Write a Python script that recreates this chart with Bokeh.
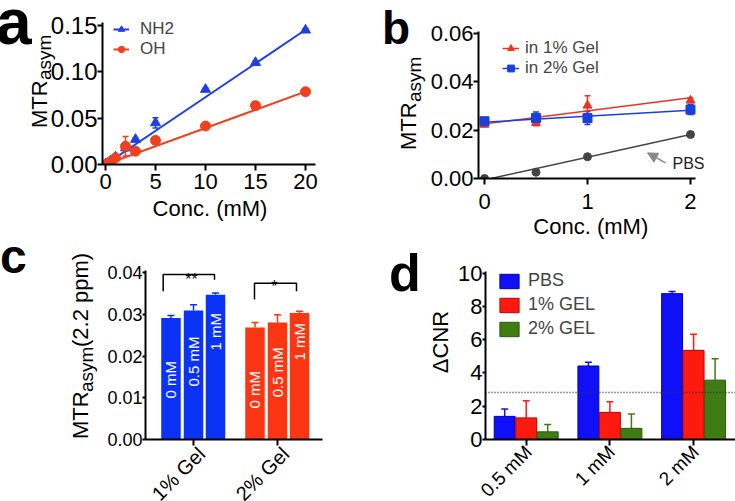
import math
from bokeh.plotting import figure
from bokeh.core.properties import value
from bokeh.models import (Range1d, FixedTicker, Whisker, TeeHead, ColumnDataSource, Legend,
                          LegendItem, Label, LabelSet, Span, Arrow, NormalHead, NumeralTickFormatter)
from bokeh.layouts import row, column
from bokeh.embed import file_html
from bokeh.resources import INLINE

try:
    from bokeh.models import HTMLLabelSet as OutLabelSet
except ImportError:
    OutLabelSet = LabelSet

FONT = "Liberation Sans"

# ---------------- data ----------------
# panel a
conc_a = [0, 0.5, 1, 2, 3, 5, 10, 15, 20]
nh2 = [0.0005, 0.004, 0.008, 0.018, 0.027, 0.045, 0.081, 0.110, 0.145]
nh2_err = [0.0, 0.0, 0.0, 0.0035, 0.0015, 0.0055, 0.0015, 0.0015, 0.0015]
oh = [0.0, 0.003, 0.007, 0.0196, 0.0143, 0.026, 0.0415, 0.0635, 0.0785]
oh_err = [0.0, 0.0, 0.0, 0.0105, 0.001, 0.001, 0.001, 0.001, 0.001]
nh2_fit = (0.00727, 0.0)     # slope, intercept
oh_fit = (0.00393, 0.0)

# panel b
conc_b = [0, 0.5, 1, 2]
gel1_b = [0.0223, 0.0230, 0.0302, 0.0323]
gel1_b_err = [0.0008, 0.0012, 0.0040, 0.0010]
gel2_b = [0.0237, 0.0250, 0.0250, 0.0285]
gel2_b_err = [0.0010, 0.0025, 0.0027, 0.0020]
pbs_b = [0.0, 0.0026, 0.0090, 0.0182]
gel1_b_fit = (0.0054, 0.0226)
gel2_b_fit = (0.00245, 0.0233)
pbs_b_fit = (0.0094, -0.0006)

# panel c
groups_c = ["1% Gel", "2% Gel"]
conc_labels_c = ["0 mM", "0.5 mM", "1 mM"]
gel1_c = [0.0291, 0.0309, 0.0347]
gel1_c_err = [0.0006, 0.0014, 0.0004]
gel2_c = [0.0268, 0.0280, 0.0303]
gel2_c_err = [0.0012, 0.0019, 0.0004]
sig_c = ["**", "*"]

# panel d
groups_d = ["0.5 mM", "1 mM", "2 mM"]
pbs_d = [1.39, 4.42, 8.77]
pbs_d_err = [0.44, 0.23, 0.13]
gel1_d = [1.30, 1.63, 5.36]
gel1_d_err = [1.03, 0.64, 0.97]
gel2_d = [0.46, 0.67, 3.57]
gel2_d_err = [0.44, 0.86, 1.28]
threshold_d = 2.83


def make_fig(w, h, xr, yr, l, r, t, b):
    p = figure(width=w, height=h, x_range=Range1d(*xr), y_range=Range1d(*yr),
               output_backend="svg", toolbar_location=None,
               min_border_left=l, min_border_right=r, min_border_top=t, min_border_bottom=b)
    p.title.visible = False
    p.grid.visible = False
    p.outline_line_color = None
    for ax in p.axis:
        ax.axis_line_width = 2
        ax.axis_line_color = "black"
        ax.major_tick_line_width = 2
        ax.major_tick_line_color = "black"
        ax.major_tick_in = 0
        ax.minor_tick_in = 0
        ax.minor_tick_out = 0
        ax.major_label_text_font = FONT
        ax.major_label_text_color = "black"
        ax.axis_label_text_font = FONT
        ax.axis_label_text_font_style = "normal"
        ax.axis_label_text_color = "black"
    return p


def out_labels(p, xs, ys, texts, size, angle=0.0, align="left", baseline="middle",
               bold=False, dx=0, dy=0):
    src = ColumnDataSource(dict(x=xs, y=ys, t=texts))
    p.add_layout(OutLabelSet(x="x", y="y", text="t", source=src, angle=angle, text_align=align,
                             text_baseline=baseline, x_offset=dx, y_offset=dy,
                             text_font=value(FONT), text_font_size=value(f"{size}px"),
                             text_font_style="bold" if bold else "normal", text_color="black"))


def fit_line(conc, fit):
    xs = [min(conc), max(conc)]
    return xs, [fit[0] * x + fit[1] for x in xs]


VERT = math.pi / 2

# ---------------- panel a ----------------
pa = make_fig(370, 244, (-0.3, 26.5), (0, 0.17697), 102, 0, 0, 80)
pa.xaxis.bounds = (-0.3, 21)
pa.yaxis.bounds = (0, 0.1532)
pa.xaxis.ticker = FixedTicker(ticks=[0, 5, 10, 15, 20])
pa.yaxis.ticker = FixedTicker(ticks=[0, 0.05, 0.10, 0.15])
pa.yaxis.formatter = NumeralTickFormatter(format="0.00")
pa.xaxis.major_label_text_font_size = "22px"
pa.yaxis.major_label_text_font_size = "24px"
pa.xaxis.major_tick_out = 6
pa.xaxis.major_label_standoff = 3
pa.yaxis.major_tick_out = 5
pa.yaxis.major_label_standoff = 0

BLUE_A, RED_A = "#1f3fe0", "#f0401e"
series_a = []
for vals, errs, fit, col, mk, name in [(nh2, nh2_err, nh2_fit, BLUE_A, "triangle", "NH2"),
                                       (oh, oh_err, oh_fit, RED_A, "circle", "OH")]:
    fx, fy = fit_line(conc_a, fit)
    lr = pa.line(fx, fy, line_color=col, line_width=2)
    src = ColumnDataSource(dict(x=conc_a, y=vals, lo=[v - e for v, e in zip(vals, errs)],
                                hi=[v + e for v, e in zip(vals, errs)]))
    pa.add_layout(Whisker(source=src, base="x", lower="lo", upper="hi", line_color=col, line_width=1.5,
                          upper_head=TeeHead(size=6, line_color=col, line_width=1.5),
                          lower_head=TeeHead(size=6, line_color=col, line_width=1.5)))
    sr = pa.scatter("x", "y", source=src, marker=mk, size=10, fill_color=col, line_color=col)
    series_a.append(LegendItem(label=name, renderers=[lr, sr]))
pa.add_layout(Legend(items=series_a, location=(11, 105), glyph_width=16, glyph_height=18,
                     label_standoff=11, spacing=0, padding=0, margin=0, border_line_color=None,
                     background_fill_alpha=0, label_text_font=FONT, label_text_font_size="17px",
                     label_height=18))
out_labels(pa, [-10.9], [0.1532], ["a"], 64, bold=True)
out_labels(pa, [-6.53], [0.0388], ["MTR"], 22, angle=VERT)
out_labels(pa, [-6.03], [0.0906], ["asym"], 19, angle=VERT)
out_labels(pa, [10.5], [-0.0486], ["Conc. (mM)"], 22, align="center")

# ---------------- panel b ----------------
pb = make_fig(365, 244, (-0.0583, 2.437), (0, 0.07365), 108, 0, 0, 66)
pb.xaxis.bounds = (-0.058, 2.049)
pb.yaxis.bounds = (0, 0.0608)
pb.xaxis.ticker = FixedTicker(ticks=[0, 1, 2])
pb.yaxis.ticker = FixedTicker(ticks=[0, 0.02, 0.04, 0.06])
pb.yaxis.formatter = NumeralTickFormatter(format="0.00")
pb.xaxis.major_label_text_font_size = "22px"
pb.yaxis.major_label_text_font_size = "22px"
pb.xaxis.major_tick_out = 6
pb.xaxis.major_label_standoff = 9
pb.yaxis.major_tick_out = 5
pb.yaxis.major_label_standoff = 0

RED_B, BLUE_B, GRAY_B = "#ee3322", "#1a3fe0", "#444444"
fx, fy = fit_line(conc_b, pbs_b_fit)
pb.line(fx, fy, line_color=GRAY_B, line_width=1.5)
pb.scatter(conc_b, pbs_b, marker="circle", size=8, fill_color=GRAY_B, line_color=GRAY_B)
items_b = []
for vals, errs, fit, col, mk, name in [(gel1_b, gel1_b_err, gel1_b_fit, RED_B, "triangle", "in 1% Gel"),
                                       (gel2_b, gel2_b_err, gel2_b_fit, BLUE_B, "square", "in 2% Gel")]:
    fx, fy = fit_line(conc_b, fit)
    lr = pb.line(fx, fy, line_color=col, line_width=1.5)
    src = ColumnDataSource(dict(x=conc_b, y=vals, lo=[v - e for v, e in zip(vals, errs)],
                                hi=[v + e for v, e in zip(vals, errs)]))
    pb.add_layout(Whisker(source=src, base="x", lower="lo", upper="hi", line_color=col, line_width=1.5,
                          upper_head=TeeHead(size=6, line_color=col, line_width=1.5),
                          lower_head=TeeHead(size=6, line_color=col, line_width=1.5)))
    sr = pb.scatter("x", "y", source=src, marker=mk, size=9, fill_color=col, line_color=col)
    items_b.append(LegendItem(label=name, renderers=[lr, sr]))
pb.add_layout(Legend(items=items_b, location=(24, 100), glyph_width=17, glyph_height=18,
                     label_standoff=6, spacing=0, padding=0, margin=0, border_line_color=None,
                     background_fill_alpha=0, label_text_font=FONT, label_text_font_size="17px",
                     label_height=18))
pb.add_layout(Arrow(end=NormalHead(size=10, fill_color="#888888", line_color="#888888"),
                    x_start=1.757, y_start=0.0065, x_end=1.583, y_end=0.0106,
                    line_color="#888888", line_width=1.5))
pb.add_layout(Label(x=1.825, y=0.0063, text="PBS", text_baseline="middle", text_font=FONT,
                    text_font_size="16px", text_color="#222222"))
out_labels(pb, [-0.990], [0.0621], ["b"], 46, bold=True)
out_labels(pb, [-0.731], [0.01158], ["MTR"], 22, angle=VERT)
out_labels(pb, [-0.673], [0.03144], ["asym"], 19, angle=VERT)
out_labels(pb, [1.037], [-0.0203], ["Conc. (mM)"], 22, align="center")

# ---------------- panel c ----------------
pc = make_fig(370, 257, (0.42857, 3.1071), (0, 0.046707), 145, 0, 0, 62)
pc.xaxis.bounds = (0.4286, 2.536)
pc.yaxis.bounds = (0, 0.0405)
pc.xaxis.ticker = FixedTicker(ticks=[1, 2])
pc.xaxis.major_label_overrides = {1: " ", 2: " "}
pc.yaxis.ticker = FixedTicker(ticks=[0, 0.01, 0.02, 0.03, 0.04])
pc.yaxis.formatter = NumeralTickFormatter(format="0.00")
pc.yaxis.major_label_text_font_size = "18px"
pc.yaxis.major_tick_out = 3
pc.yaxis.major_label_standoff = 0
pc.xaxis.major_tick_out = 6

BLUE_C, RED_C = "#0a33f5", "#fc3512"
offs_c = [-0.268, 0.0, 0.262]
label_start_c = [[0.0098, 0.0127, 0.0213], [0.0074, 0.0101, 0.0189]]
for gi, (vals, errs, col) in enumerate([(gel1_c, gel1_c_err, BLUE_C), (gel2_c, gel2_c_err, RED_C)]):
    xs = [gi + 1 + o for o in offs_c]
    src = ColumnDataSource(dict(x=xs, top=vals, hi=[v + e for v, e in zip(vals, errs)],
                                ly=label_start_c[gi], txt=conc_labels_c))
    pc.add_layout(Whisker(source=src, base="x", lower="top", upper="hi", line_color=col, line_width=1.5,
                          upper_head=TeeHead(size=7, line_color=col, line_width=1.5), lower_head=None))
    pc.vbar(x="x", top="top", width=0.232, source=src, fill_color=col, line_color=None)
    pc.add_layout(LabelSet(x="x", y="ly", text="txt", source=src, angle=VERT,
                           text_align="left", text_baseline="middle", text_color="white",
                           text_font=value(FONT), text_font_size=value("15px")))
out_labels(pc, [1, 2], [0, 0], groups_c, 20, angle=math.pi / 4, align="right", dx=9, dy=-12)
brackets_c = [([0.639, 0.639, 1.25, 1.25], [0.0355, 0.0395, 0.0395, 0.03825], 0.976, 0.0383),
              ([1.726, 1.726, 2.226, 2.226], [0.03353, 0.03744, 0.03744, 0.03552], 1.964, 0.03665)]
for (bx, by, tx, ty), s in zip(brackets_c, sig_c):
    pc.line(bx, by, line_color="black", line_width=1.5)
    pc.add_layout(Label(x=tx, y=ty, text=s, text_align="center", text_baseline="alphabetic",
                        text_font=FONT, text_font_size="16px", text_color="black"))
out_labels(pc, [-1.298], [0.04383], ["c"], 48, bold=True)
out_labels(pc, [-0.335], [0.0], ["MTR"], 22, angle=VERT)
out_labels(pc, [-0.258], [0.01126], ["asym"], 19, angle=VERT)
out_labels(pc, [-0.335], [0.02204], ["(2.2 ppm)"], 22, angle=VERT)

# ---------------- panel d ----------------
pd_ = make_fig(365, 257, (0.51374, 3.5006), (0, 11.726), 115, 0, 0, 62)
pd_.yaxis.bounds = (0, 10.1)
pd_.xaxis.ticker = FixedTicker(ticks=[1, 2, 3])
pd_.xaxis.major_label_overrides = {1: " ", 2: " ", 3: " "}
pd_.yaxis.ticker = FixedTicker(ticks=[0, 2, 4, 6, 8, 10])
pd_.yaxis.major_label_text_font_size = "22px"
pd_.yaxis.major_tick_out = 3
pd_.yaxis.major_label_standoff = 0
pd_.xaxis.major_tick_out = 6
pd_.yaxis.axis_label = "ΔCNR"
pd_.yaxis.axis_label_text_font_size = "22px"
pd_.yaxis.axis_label_standoff = 2

pd_.add_layout(Span(location=threshold_d, dimension="width", line_color="#333333",
                    line_width=1.5, line_dash="1 2"))
offs_d = [-0.257, 0.0, 0.257]
items_d = []
for si, (vals, errs, col, edge, name) in enumerate([
        (pbs_d, pbs_d_err, "#1010f8", "#0000b0", "PBS"),
        (gel1_d, gel1_d_err, "#ff1a10", "#c00000", "1% GEL"),
        (gel2_d, gel2_d_err, "#3f7d14", "#2a5a0a", "2% GEL")]):
    xs = [i + 1 + offs_d[si] for i in range(len(vals))]
    src = ColumnDataSource(dict(x=xs, top=vals, hi=[v + e for v, e in zip(vals, errs)]))
    pd_.add_layout(Whisker(source=src, base="x", lower="top", upper="hi", line_color=col, line_width=1.5,
                           upper_head=TeeHead(size=7, line_color=col, line_width=1.5), lower_head=None))
    r = pd_.vbar(x="x", top="top", width=0.25, source=src, fill_color=col, line_color=edge, line_width=1)
    items_d.append(LegendItem(label=name, renderers=[r]))
pd_.add_layout(Legend(items=items_d, location=(12, 100), glyph_width=24, glyph_height=18,
                      label_standoff=7, spacing=3, padding=0, margin=0, border_line_color=None,
                      background_fill_alpha=0, label_text_font=FONT, label_text_font_size="18px",
                      label_height=21))
out_labels(pd_, [1, 2, 3], [0, 0, 0], groups_d, 19, angle=math.pi / 4, align="right", dx=3, dy=-10)
out_labels(pd_, [-0.6332], [9.98], ["d"], 52, bold=True)

layout = column(row(column(pa), column(pb)), row(column(pc), column(pd_)))
open("out.html", "w").write(file_html(layout, INLINE))
